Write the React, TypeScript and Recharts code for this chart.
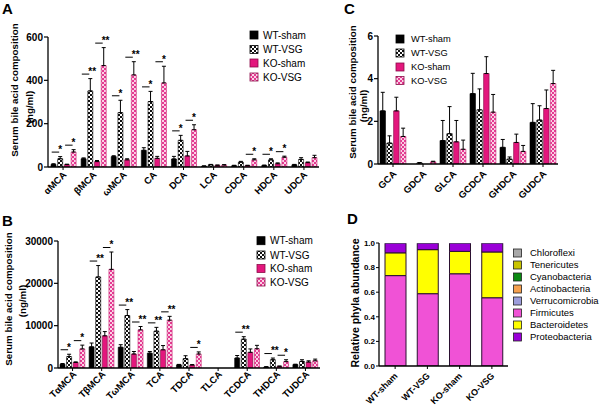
import React from 'react';
import { BarChart, Bar, XAxis, YAxis, ErrorBar, LabelList } from 'recharts';

const FONT = '"Liberation Sans", Arial, Helvetica, sans-serif';
const KO_PINK = '#e3177d';

// ---------- shared series ----------
const seriesNames = ['WT-sham', 'WT-VSG', 'KO-sham', 'KO-VSG'];
const seriesFills = ['#000000', 'url(#chkBlack)', KO_PINK, 'url(#chkPink)'];
const seriesStrokes = ['#000000', '#000000', '#7a0a40', '#c8206e'];

// ---------- Panel A ----------
const aCategories = ['αMCA', 'βMCA', 'ωMCA', 'CA', 'DCA', 'LCA', 'CDCA', 'HDCA', 'UDCA'];
const aWtSham = [12, 38, 48, 77, 37, 4, 6, 7, 10];
const aWtShamErr = [3, 4, 4, 12, 12, 1, 2, 2, 2];
const aWtVsg = [38, 351, 251, 302, 123, 10, 22, 33, 35];
const aWtVsgErr = [10, 57, 57, 47, 23, 2, 4, 5, 8];
const aKoSham = [11, 25, 33, 40, 51, 8, 7, 15, 20];
const aKoShamErr = [2, 5, 5, 9, 21, 1, 1, 4, 3];
const aKoVsg = [69, 468, 425, 388, 172, 9, 33, 45, 43];
const aKoVsgErr = [11, 83, 61, 77, 23, 2, 5, 5, 11];
const aSigWt = ['*', '**', '*', '*', '*', '', '', '*', ''];
const aSigKo = ['*', '**', '**', '*', '*', '', '*', '*', ''];
const aTicks = [0, 200, 400, 600];

// ---------- Panel B ----------
const bCategories = ['TαMCA', 'TβMCA', 'TωMCA', 'TCA', 'TDCA', 'TLCA', 'TCDCA', 'THDCA', 'TUDCA'];
const bWtSham = [900, 5000, 4900, 3500, 750, 0, 2350, 230, 800];
const bWtShamErr = [150, 900, 600, 400, 100, 0, 600, 80, 100];
const bWtVsg = [2700, 21500, 12400, 8700, 2200, 0, 6800, 1950, 1550];
const bWtVsgErr = [550, 2700, 1400, 900, 700, 0, 600, 400, 400];
const bKoSham = [1300, 7600, 3300, 4300, 700, 0, 3700, 390, 1400];
const bKoShamErr = [150, 1000, 600, 1000, 100, 0, 800, 80, 300];
const bKoVsg = [4500, 23300, 9000, 11300, 3300, 0, 4550, 1500, 1700];
const bKoVsgErr = [900, 4100, 800, 900, 500, 0, 800, 450, 400];
const bSigWt = ['*', '**', '**', '**', '', '', '**', '**', ''];
const bSigKo = ['*', '*', '**', '**', '*', '', '', '*', ''];
const bTicks = [0, 10000, 20000, 30000];

// ---------- Panel C ----------
const cCategories = ['GCA', 'GDCA', 'GLCA', 'GCDCA', 'GHDCA', 'GUDCA'];
const cWtSham = [2.49, 0, 1.1, 3.3, 0.78, 1.95];
const cWtShamErr = [0.87, 0, 0.94, 0.95, 0.37, 0.88];
const cWtVsg = [0.98, 0.05, 1.42, 2.54, 0.23, 2.06];
const cWtVsgErr = [0.34, 0.02, 1.27, 0.98, 0.1, 0.67];
const cKoSham = [2.49, 0, 1.04, 4.24, 1.01, 2.6];
const cKoShamErr = [0.64, 0, 1.0, 0.79, 0.39, 0.87];
const cKoVsg = [1.29, 0.1, 0.69, 2.43, 0.59, 3.77];
const cKoVsgErr = [0.39, 0.03, 0.43, 0.83, 0.28, 0.62];
const cSig = ['', '', '', '', '', ''];
const cTicks = [0, 2, 4, 6];

// ---------- Panel D ----------
const dGroups = ['WT-sham', 'WT-VSG', 'KO-sham', 'KO-VSG'];
const dFirmicutes = [0.735, 0.588, 0.75, 0.555];
const dBacteroidetes = [0.185, 0.358, 0.182, 0.372];
const dProteobacteria = [0.078, 0.052, 0.066, 0.071];
const dVerrucomicrobia = [0.001, 0.001, 0.001, 0.001];
const dActinobacteria = [0.0005, 0.0005, 0.0005, 0.0005];
const dCyanobacteria = [0.0003, 0.0003, 0.0003, 0.0003];
const dTenericutes = [0.0001, 0.0001, 0.0001, 0.0001];
const dChloroflexi = [0.0001, 0.0001, 0.0001, 0.0001];
const dTicks = [0, 0.1, 0.2, 0.3, 0.4, 0.5, 0.6, 0.7, 0.8, 0.9, 1.0];
const dLegendNames = ['Chloroflexi', 'Tenericutes', 'Cyanobacteria', 'Actinobacteria', 'Verrucomicrobia', 'Firmicutes', 'Bacteroidetes', 'Proteobacteria'];
const dLegendColors = ['#a8a8a8', '#c9c400', '#0b8a12', '#f5a04e', '#9d9ddc', '#f052d6', '#ffff00', '#9a00d8'];

function rowsFrom(cats: string[], ws: number[], wse: number[], wv: number[], wve: number[], ks: number[], kse: number[], kv: number[], kve: number[]) {
  return cats.map((name, i) => ({
    name,
    wtSham: ws[i], wtShamErr: [0, wse[i]],
    wtVsg: wv[i], wtVsgErr: [0, wve[i]],
    koSham: ks[i], koShamErr: [0, kse[i]],
    koVsg: kv[i], koVsgErr: [0, kve[i]],
  }));
}

const aRows = rowsFrom(aCategories, aWtSham, aWtShamErr, aWtVsg, aWtVsgErr, aKoSham, aKoShamErr, aKoVsg, aKoVsgErr);
const bRows = rowsFrom(bCategories, bWtSham, bWtShamErr, bWtVsg, bWtVsgErr, bKoSham, bKoShamErr, bKoVsg, bKoVsgErr);
const cRows = rowsFrom(cCategories, cWtSham, cWtShamErr, cWtVsg, cWtVsgErr, cKoSham, cKoShamErr, cKoVsg, cKoVsgErr);
const dRows = dGroups.map((name, i) => ({
  name,
  Firmicutes: dFirmicutes[i],
  Bacteroidetes: dBacteroidetes[i],
  Proteobacteria: dProteobacteria[i],
  Verrucomicrobia: dVerrucomicrobia[i],
  Actinobacteria: dActinobacteria[i],
  Cyanobacteria: dCyanobacteria[i],
  Tenericutes: dTenericutes[i],
  Chloroflexi: dChloroflexi[i],
}));

// significance bar + asterisks, placed above the VSG bar's error bar (via the bar's own px/unit)
function makeSig(cats: string[], values: number[], errs: number[], sigs: string[]) {
  return (props: any) => {
    const idx = cats.indexOf(String(props.value));
    if (idx < 0) return null;
    const s = sigs[idx];
    if (!s || !values[idx]) return null;
    const vb = props.viewBox && props.viewBox.width !== undefined ? props.viewBox : props;
    const x = Number(vb.x), y = Number(vb.y), w = Number(vb.width), h = Number(vb.height);
    const k = h / values[idx];
    const top = y - errs[idx] * k;
    const ly = top - 4.5;
    return (
      <g>
        <line x1={x - w - 1} y1={ly} x2={x + 1.5} y2={ly} stroke="#000" strokeWidth={1} />
        <text x={x + 0.5} y={ly + 0.8} fontSize={10} fontWeight="bold" fontFamily={FONT} fill="#000">{s}</text>
      </g>
    );
  };
}

function rotTick(fontSize: number, dx: number, dy: number) {
  return (p: any) => (
    <text
      transform={`translate(${p.x + dx},${p.y + dy}) rotate(-45)`}
      textAnchor="end"
      fontSize={fontSize}
      fontWeight="bold"
      fontFamily={FONT}
      fill="#000"
    >
      {p.payload.value}
    </text>
  );
}

const axisLine = { stroke: '#000', strokeWidth: 1.3 };

function BilePanel(props: any) {
  const { rows, cats, width, height, margin, yWidth, xHeight, domain, ticks, barSize, barGap, xFont, dx, dy, sigWt, sigKo, wv, wve, kv, kve, yFont } = props;
  return (
    <BarChart width={width} height={height} data={rows} margin={margin} barSize={barSize} barGap={barGap}>
      <XAxis dataKey="name" interval={0} height={xHeight} tickSize={3} tickMargin={2} axisLine={axisLine} tickLine={{ stroke: '#000', strokeWidth: 1 }} tick={rotTick(xFont, dx, dy)} />
      <YAxis width={yWidth} domain={domain} ticks={ticks} type="number" tickSize={4} tickMargin={1} axisLine={axisLine} tickLine={{ stroke: '#000', strokeWidth: 1.2 }} tick={{ fontSize: yFont, fontWeight: 'bold', fill: '#000', fontFamily: FONT }} allowDataOverflow />
      <Bar dataKey="wtSham" fill={seriesFills[0]} stroke={seriesStrokes[0]} strokeWidth={0.6} isAnimationActive={false}>
        <ErrorBar dataKey="wtShamErr" width={2} stroke="#000" strokeWidth={1} />
      </Bar>
      <Bar dataKey="wtVsg" fill={seriesFills[1]} stroke={seriesStrokes[1]} strokeWidth={0.6} isAnimationActive={false}>
        <ErrorBar dataKey="wtVsgErr" width={2} stroke="#000" strokeWidth={1} />
        <LabelList dataKey="name" content={makeSig(cats, wv, wve, sigWt)} />
      </Bar>
      <Bar dataKey="koSham" fill={seriesFills[2]} stroke={seriesStrokes[2]} strokeWidth={0.6} isAnimationActive={false}>
        <ErrorBar dataKey="koShamErr" width={2} stroke="#000" strokeWidth={1} />
      </Bar>
      <Bar dataKey="koVsg" fill={seriesFills[3]} stroke={seriesStrokes[3]} strokeWidth={0.6} isAnimationActive={false}>
        <ErrorBar dataKey="koVsgErr" width={2} stroke="#000" strokeWidth={1} />
        <LabelList dataKey="name" content={makeSig(cats, kv, kve, sigKo)} />
      </Bar>
    </BarChart>
  );
}

function SeriesLegend({ x, ys, textX, fontSize }: { x: number; ys: number[]; textX: number; fontSize: number }) {
  return (
    <g>
      {seriesNames.map((n, i) => (
        <g key={n}>
          <rect x={x} y={ys[i] - 4} width={8} height={8} fill={seriesFills[i]} stroke={i >= 2 ? '#8a0c48' : '#000'} strokeWidth={0.8} />
          <text x={textX} y={ys[i] + fontSize * 0.36} fontSize={fontSize} fontFamily={FONT} fill="#000">{n}</text>
        </g>
      ))}
    </g>
  );
}

function YTitle({ x1, y1, x2, y2, fontSize }: any) {
  return (
    <g fontFamily={FONT} fontWeight="bold" fontSize={fontSize} fill="#000">
      <text transform={`translate(${x1},${y1}) rotate(-90)`} textAnchor="middle">Serum bile acid composition</text>
      <text transform={`translate(${x2},${y2}) rotate(-90)`} textAnchor="middle">(ng/ml)</text>
    </g>
  );
}

const dStackOrder = ['Firmicutes', 'Bacteroidetes', 'Proteobacteria', 'Verrucomicrobia', 'Actinobacteria', 'Cyanobacteria', 'Tenericutes', 'Chloroflexi'];

export default function App() {
  return (
    <div style={{ position: 'absolute', left: 0, top: 0, width: 602, height: 409, background: '#fff', fontFamily: FONT, overflow: 'hidden' }}>
      <div style={{ position: 'absolute', left: 0, top: 0 }}>
        <BilePanel rows={aRows} cats={aCategories} width={330} height={205} margin={{ top: 37, right: 11, left: 0, bottom: 0 }} yWidth={48} xHeight={38}
          domain={[0, 600]} ticks={aTicks} barSize={5} barGap={1.7} xFont={9.5} dx={4} dy={3.5} yFont={10}
          sigWt={aSigWt} sigKo={aSigKo} wv={aWtVsg} wve={aWtVsgErr} kv={aKoVsg} kve={aKoVsgErr} />
      </div>
      <div style={{ position: 'absolute', left: 0, top: 200 }}>
        <BilePanel rows={bRows} cats={bCategories} width={330} height={205} margin={{ top: 41, right: 10, left: 0, bottom: 0 }} yWidth={58} xHeight={37}
          domain={[0, 30000]} ticks={bTicks} barSize={5} barGap={1.6} xFont={9.5} dx={4.5} dy={2} yFont={10}
          sigWt={bSigWt} sigKo={bSigKo} wv={bWtVsg} wve={bWtVsgErr} kv={bKoVsg} kve={bKoVsgErr} />
      </div>
      <div style={{ position: 'absolute', left: 300, top: 0 }}>
        <BilePanel rows={cRows} cats={cCategories} width={270} height={205} margin={{ top: 36, right: 12, left: 0, bottom: 0 }} yWidth={78} xHeight={41}
          domain={[0, 6]} ticks={cTicks} barSize={5.5} barGap={1.3} xFont={9.5} dx={4} dy={5.5} yFont={10}
          sigWt={cSig} sigKo={cSig} wv={cWtVsg} wve={cWtVsgErr} kv={cKoVsg} kve={cKoVsgErr} />
      </div>
      <div style={{ position: 'absolute', left: 300, top: 200 }}>
        <BarChart width={215} height={205} data={dRows} margin={{ top: 43, right: 7, left: 0, bottom: 0 }} barSize={21}>
          <XAxis dataKey="name" interval={0} height={39} tickSize={3} tickMargin={2} axisLine={axisLine} tickLine={{ stroke: '#000' }} tick={rotTick(9, 3, 5.5)} />
          <YAxis width={79} domain={[0, 1]} ticks={dTicks} type="number" tickSize={3} tickMargin={1} axisLine={axisLine} tickLine={{ stroke: '#000' }}
            tickFormatter={(v: number) => v.toFixed(1)} tick={{ fontSize: 8, fontWeight: 'bold', fill: '#000', fontFamily: FONT }} allowDataOverflow />
          {dStackOrder.map((k) => {
            const ci = dLegendNames.indexOf(k);
            const big = k === 'Firmicutes' || k === 'Bacteroidetes' || k === 'Proteobacteria';
            return (
              <Bar key={k} dataKey={k} stackId="s" fill={dLegendColors[ci]} stroke={big ? '#2a1030' : 'none'} strokeWidth={1} isAnimationActive={false} />
            );
          })}
        </BarChart>
      </div>
      <svg width={602} height={409} style={{ position: 'absolute', left: 0, top: 0, pointerEvents: 'none' }}>
        <defs>
          <pattern id="chkBlack" width={4} height={4} patternUnits="userSpaceOnUse">
            <rect width={4} height={4} fill="#ffffff" />
            <rect x={0} y={0} width={2} height={2} fill="#111" />
            <rect x={2} y={2} width={2} height={2} fill="#111" />
          </pattern>
          <pattern id="chkPink" width={4} height={4} patternUnits="userSpaceOnUse">
            <rect width={4} height={4} fill="#fbd3e6" />
            <rect x={0} y={0} width={2} height={2} fill="#e43a92" />
            <rect x={2} y={2} width={2} height={2} fill="#e43a92" />
          </pattern>
        </defs>
        <g fontFamily={FONT} fontWeight="bold" fontSize={15} fill="#000">
          <text x={2} y={14}>A</text>
          <text x={2} y={226}>B</text>
          <text x={344} y={14}>C</text>
          <text x={347} y={224}>D</text>
        </g>
        <YTitle x1={18} y1={90} x2={33} y2={107} fontSize={9.8} />
        <YTitle x1={11.5} y1={299} x2={25.5} y2={301} fontSize={9.8} />
        <YTitle x1={355.5} y1={92} x2={366.5} y2={106} fontSize={9.8} />
        <text transform="translate(358.5,303) rotate(-90)" textAnchor="middle" fontFamily={FONT} fontWeight="bold" fontSize={10.5} fill="#000">Relative phyla abundance</text>
        <SeriesLegend x={250} ys={[35, 49.5, 63, 77]} textX={263} fontSize={10} />
        <SeriesLegend x={257} ys={[240.7, 255, 268.5, 282]} textX={270} fontSize={10} />
        <SeriesLegend x={396} ys={[39, 53, 67, 80.5]} textX={411} fontSize={9.3} />
        <g>
          {dLegendNames.map((n, i) => {
            const cy = 253 + i * 12;
            return (
              <g key={n}>
                <rect x={513.5} y={cy - 4} width={8} height={8} fill={dLegendColors[i]} stroke="#222" strokeWidth={0.8} />
                <text x={530} y={cy + 3.4} fontSize={9.5} fontFamily={FONT} fill="#000">{n}</text>
              </g>
            );
          })}
        </g>
      </svg>
    </div>
  );
}
